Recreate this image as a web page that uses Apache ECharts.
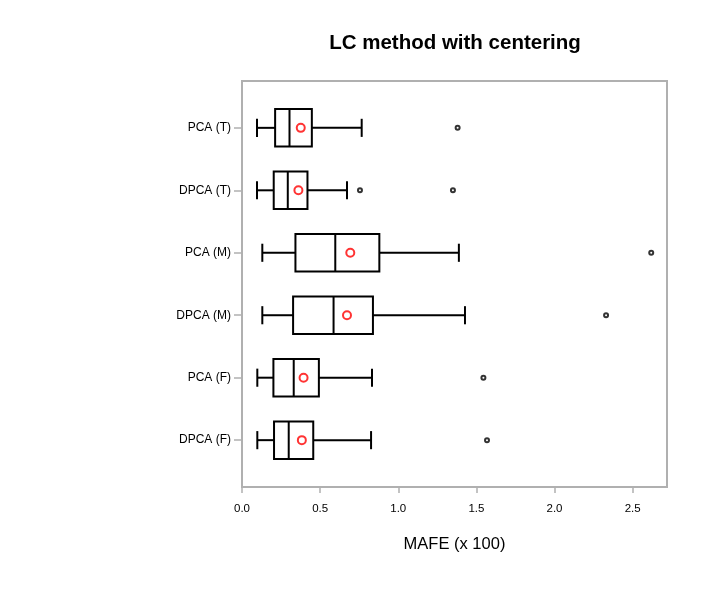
<!DOCTYPE html>
<html>
<head>
<meta charset="utf-8">
<script src="https://cdn.jsdelivr.net/npm/echarts@6/dist/echarts.min.js"></script>
<style>
  html, body { margin: 0; padding: 0; background: #fff; }
  #main { width: 709px; height: 590px; }
</style>
</head>
<body>
<div id="main"></div>
<script>
// categories from top to bottom
var categories = ['PCA (T)', 'DPCA (T)', 'PCA (M)', 'DPCA (M)', 'PCA (F)', 'DPCA (F)'];
var whiskerLow = [0.096, 0.096, 0.130, 0.130, 0.098, 0.098];
var lowerQuartile = [0.212, 0.203, 0.342, 0.327, 0.201, 0.205];
var medians = [0.304, 0.293, 0.597, 0.586, 0.331, 0.299];
var upperQuartile = [0.447, 0.419, 0.879, 0.838, 0.492, 0.456];
var whiskerHigh = [0.766, 0.672, 1.388, 1.427, 0.832, 0.826];
var means = [0.376, 0.361, 0.693, 0.672, 0.394, 0.383];
// [category index, value]
var outliers = [[0, 1.38], [1, 0.755], [1, 1.35], [2, 2.619], [3, 2.33], [4, 1.545], [5, 1.568]];
var xTicks = [0, 0.5, 1, 1.5, 2, 2.5];

var font = 'Liberation Sans, Arial, sans-serif';
var catIdx = categories.map(function (c, i) { return i; });

var boxData = categories.map(function (c, i) {
  return [i, whiskerLow[i], lowerQuartile[i], medians[i], upperQuartile[i], whiskerHigh[i]];
});
var meanData = means.map(function (m, i) { return [m, i]; });
var outlierData = outliers.map(function (o) { return [o[1], o[0]]; });

function renderBox(params, api) {
  var i = api.value(0);
  var unit = api.size([0, 1])[1];
  var halfBox = unit * 0.3, halfCap = unit * 0.145;
  var low = api.coord([api.value(1), i]),
    q1 = api.coord([api.value(2), i]),
    med = api.coord([api.value(3), i]),
    q3 = api.coord([api.value(4), i]),
    high = api.coord([api.value(5), i]);
  var y = low[1];
  var style = { stroke: '#000', lineWidth: 2, fill: null };
  return {
    type: 'group',
    children: [
      { type: 'line', shape: { x1: low[0], y1: y, x2: q1[0], y2: y }, style: style },
      { type: 'line', shape: { x1: q3[0], y1: y, x2: high[0], y2: y }, style: style },
      { type: 'line', shape: { x1: low[0], y1: y - halfCap, x2: low[0], y2: y + halfCap }, style: style },
      { type: 'line', shape: { x1: high[0], y1: y - halfCap, x2: high[0], y2: y + halfCap }, style: style },
      { type: 'rect', shape: { x: q1[0], y: y - halfBox, width: q3[0] - q1[0], height: halfBox * 2 },
        style: { stroke: '#000', lineWidth: 2, fill: '#fff' } },
      { type: 'line', shape: { x1: med[0], y1: y - halfBox, x2: med[0], y2: y + halfBox }, style: style }
    ]
  };
}

var myChart = echarts.init(document.getElementById('main'));
var option = {
  backgroundColor: '#fff',
  animation: false,
  title: {
    text: 'LC method with centering',
    left: 455,
    textAlign: 'center',
    top: 33,
    padding: 0,
    textStyle: { fontFamily: font, fontWeight: 'bold', fontSize: 20.5, color: '#000' }
  },
  grid: {
    left: 242,
    right: 42,
    top: 81,
    bottom: 103,
    show: true,
    borderColor: '#b0b0b0',
    borderWidth: 2,
    backgroundColor: '#fff'
  },
  xAxis: {
    type: 'value',
    min: 0,
    max: 2.72,
    name: 'MAFE (x 100)',
    nameLocation: 'middle',
    nameGap: 49,
    nameTextStyle: { fontFamily: font, fontSize: 16.5, color: '#000' },
    axisLine: { show: false, onZero: false },
    splitLine: { show: false },
    axisTick: {
      show: true,
      length: 6,
      customValues: xTicks,
      lineStyle: { color: '#b0b0b0', width: 1.5 }
    },
    axisLabel: {
      customValues: xTicks,
      margin: 16,
      fontFamily: font,
      fontSize: 11.5,
      color: '#000',
      formatter: function (v) { return v.toFixed(1); }
    }
  },
  yAxis: {
    type: 'value',
    min: -0.75,
    max: 5.75,
    inverse: true,
    axisLine: { show: false, onZero: false },
    splitLine: { show: false },
    axisTick: {
      show: true,
      length: 8,
      customValues: catIdx,
      lineStyle: { color: '#b0b0b0', width: 1.5 }
    },
    axisLabel: {
      customValues: catIdx,
      margin: 11,
      fontFamily: font,
      fontSize: 12,
      color: '#000',
      formatter: function (v) { return categories[Math.round(v)]; }
    }
  },
  series: [
    {
      type: 'custom',
      renderItem: renderBox,
      encode: { x: [1, 2, 3, 4, 5], y: 0 },
      data: boxData,
      z: 2
    },
    {
      type: 'scatter',
      data: meanData,
      symbol: 'emptyCircle',
      symbolSize: 8,
      itemStyle: { color: '#ff0000', borderColor: '#ff0000', borderWidth: 2 },
      z: 3
    },
    {
      type: 'scatter',
      data: outlierData,
      symbol: 'emptyCircle',
      symbolSize: 4,
      itemStyle: { color: '#000', borderColor: '#000', borderWidth: 1.5 },
      z: 3
    }
  ]
};
myChart.setOption(option);
</script>
</body>
</html>
